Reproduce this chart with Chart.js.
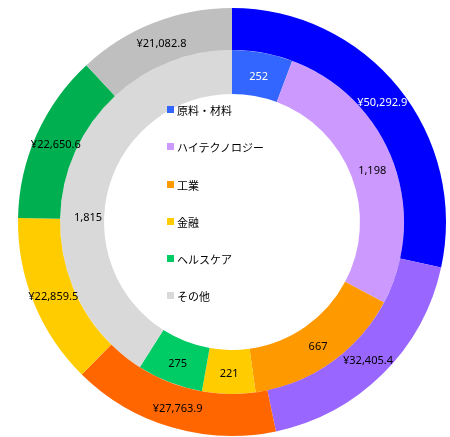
<!DOCTYPE html>
<html>
<head>
<meta charset="utf-8">
<script src="https://cdn.jsdelivr.net/npm/chart.js@4/dist/chart.umd.min.js"></script>
<style>
  html, body { margin: 0; padding: 0; background: #fff; }
  #wrap { position: relative; width: 450px; height: 437px; }
  #legend { position: absolute; left: 167px; top: 102px; font-family: "Noto Sans CJK JP", "Noto Sans", sans-serif; font-size: 11px; color: #000; }
  .item { height: 37.3px; display: flex; align-items: flex-start; white-space: nowrap; }
  .box { width: 7px; height: 7px; margin-right: 3px; margin-top: 4px; }
</style>
</head>
<body>
<div id="wrap">
  <canvas id="c" width="450" height="437"></canvas>
  <div id="legend"></div>
</div>
<script>
const categories = ["原料・材料", "ハイテクノロジー", "工業", "金融", "ヘルスケア", "その他"];
const outerValues = [50292.9, 32405.4, 27763.9, 22859.5, 22650.6, 21082.8];
const innerValues = [252, 1198, 667, 221, 275, 1815];
const outerColors = ["#0000FF", "#9966FF", "#FF6600", "#FFCC00", "#00B050", "#BFBFBF"];
const innerColors = ["#3366FF", "#CC99FF", "#FF9900", "#FFCC00", "#00CC66", "#D9D9D9"];
const outerLabelColors = ["#FFFFFF", "#000000", "#000000", "#000000", "#000000", "#000000"];
const innerLabelColors = ["#FFFFFF", "#000000", "#000000", "#000000", "#000000", "#000000"];

const fmtOuter = v => "¥" + v.toLocaleString("en-US", {minimumFractionDigits: 1, maximumFractionDigits: 1});
const fmtInner = v => v.toLocaleString("en-US");

const labelPlugin = {
  id: "sliceLabels",
  afterDatasetsDraw(chart, args, opts) {
    const ctx = chart.ctx;
    ctx.save();
    ctx.font = '11px "Noto Sans", "Open Sans", sans-serif';
    ctx.textAlign = "center";
    ctx.textBaseline = "middle";
    chart.data.datasets.forEach((ds, di) => {
      const meta = chart.getDatasetMeta(di);
      meta.data.forEach((arc, i) => {
        const p = arc.tooltipPosition();
        let dy = opts.dy;
        (opts.moved || []).forEach(m => { if (m.dataset === di && m.index === i) dy += m.dy; });
        ctx.fillStyle = ds.labelColors[i];
        ctx.fillText(ds.fmt(ds.data[i]), p.x, p.y + dy);
      });
    });
    ctx.restore();
  }
};

new Chart(document.getElementById("c"), {
  type: "doughnut",
  data: {
    labels: categories,
    datasets: [
      { data: outerValues, backgroundColor: outerColors, borderWidth: 0, weight: 42, labelColors: outerLabelColors, fmt: fmtOuter },
      { data: innerValues, backgroundColor: innerColors, borderWidth: 0, weight: 44, labelColors: innerLabelColors, fmt: fmtInner }
    ]
  },
  options: {
    responsive: false,
    animation: false,
    cutout: "59.8%",
    layout: { padding: { left: 18, right: 4, top: 8, bottom: 1 } },
    plugins: {
      legend: { display: false },
      tooltip: { enabled: false },
      sliceLabels: { dy: 2, moved: [{ dataset: 1, index: 5, dy: 36 }] }
    }
  },
  plugins: [labelPlugin]
});

const legend = document.getElementById("legend");
categories.forEach((c, i) => {
  const d = document.createElement("div");
  d.className = "item";
  d.innerHTML = '<span class="box" style="background:' + innerColors[i] + '"></span><span>' + c + '</span>';
  legend.appendChild(d);
});
</script>
</body>
</html>
